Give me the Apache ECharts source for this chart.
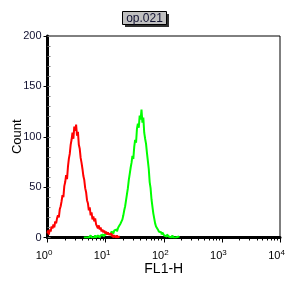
<!DOCTYPE html>
<html>
<head>
<meta charset="utf-8">
<script src="https://cdn.jsdelivr.net/npm/echarts@6/dist/echarts.min.js"></script>
<style>
html,body{margin:0;padding:0;background:#fff;}
#c{width:288px;height:288px;}
</style>
</head>
<body>
<div id="c"></div>
<script>
// Channel scale: 256 channels over 4 decades
var channelMax = 256;
var decadeExponents = ['0', '1', '2', '3', '4'];
var yTicks = [0, 50, 100, 150, 200];
var titleText = 'op.021';
var xTitle = 'FL1-H';
var yTitle = 'Count';

// Red histogram: counts per channel starting at channel 0
var redStart = 0;
var redCounts = [4,7,3,8,6,11,9,13,10,16,14,19,22,20,28,31,36,42,40,51,
  55,62,58,70,78,83,92,97,104,98,110,106,112,101,105,92,88,79,74,68,
  61,57,49,45,37,34,27,30,22,25,18,21,16,19,13,14,9,12,8,10,
  6,8,5,7,4,6,3,5,3,2,4,1,3,0,2,1,0,2,0,1,0];

// Green histogram: counts per channel starting at channel 40
var greenStart = 40;
var greenCounts = [0,1,0,1,0,0,1,0,2,0,1,0,1,2,0,1,2,1,0,2,
  1,3,1,2,3,2,4,3,5,3,4,6,5,4,7,6,8,6,9,11,
  10,14,13,18,22,27,31,37,43,49,57,63,69,74,81,78,90,97,94,108,
  113,109,121,117,127,114,119,104,98,93,84,76,68,55,49,38,31,24,19,14,
  11,12,8,6,7,5,3,5,4,2,3,1,3,2,1,2,0,1,2,0,
  1,0,1,0,1,0];

function toPairs(start, arr) {
  return arr.map(function (v, i) { return [start + i, v]; });
}

var perDecade = channelMax / (decadeExponents.length - 1);
var minorTickChannels = [];
for (var d = 0; d < decadeExponents.length - 1; d++) {
  for (var m = 2; m <= 9; m++) {
    minorTickChannels.push(perDecade * (d + Math.log10(m)));
  }
}

var font = 'Liberation Sans, Arial, sans-serif';
var chart = echarts.init(document.getElementById('c'), null, {renderer: 'canvas'});
chart.setOption({
  animation: false,
  backgroundColor: '#fff',
  grid: {left: 47.5, right: 8, top: 36, bottom: 50.5, show: true, borderColor: '#000', borderWidth: 1,
    backgroundColor: 'transparent', containLabel: false, outerBoundsMode: 'none'},
  graphic: [
    {type: 'rect', shape: {x: 125, y: 14, width: 44, height: 13}, style: {fill: '#303030'}, z: 10},
    {type: 'rect', shape: {x: 122.5, y: 11.5, width: 44, height: 13}, style: {fill: '#c0c0c0', stroke: '#000', lineWidth: 1}, z: 11},
    {type: 'text', x: 144.5, y: 18.5, style: {text: titleText, fill: '#101030', font: '12px ' + font, align: 'center', verticalAlign: 'middle'}, z: 12}
  ],
  xAxis: [
    {
      type: 'value', min: 0, max: channelMax, interval: perDecade,
      name: xTitle, nameLocation: 'middle', nameGap: 25, nameMoveOverlap: false,
      nameTextStyle: {fontFamily: font, fontSize: 14, color: '#000'},
      axisLine: {show: true, onZero: false, lineStyle: {color: '#000', width: 3}},
      axisTick: {show: true, length: 5, lineStyle: {color: '#000', width: 1}},
      splitLine: {show: false},
      axisLabel: {
        margin: 11, padding: [0, 7, 0, 0],
        formatter: function (v) {
          var i = Math.round(v / perDecade);
          return '{b|10}{e|' + decadeExponents[i] + '}';
        },
        rich: {
          b: {fontFamily: font, fontSize: 11, color: '#000', verticalAlign: 'bottom'},
          e: {fontFamily: font, fontSize: 8, color: '#000', verticalAlign: 'bottom', padding: [0, 0, 5, 0]}
        }
      }
    },
    {
      type: 'value', min: 0, max: channelMax, position: 'bottom',
      axisLine: {show: false, onZero: false},
      axisTick: {show: true, length: 3, customValues: minorTickChannels, lineStyle: {color: '#000', width: 1}},
      axisLabel: {show: false},
      splitLine: {show: false}
    }
  ],
  yAxis: [
    {
      type: 'value', min: 0, max: 200, interval: 50,
      name: yTitle, nameLocation: 'middle', nameGap: 24, nameRotate: 90, nameMoveOverlap: false,
      nameTextStyle: {fontFamily: font, fontSize: 13, color: '#000'},
      axisLine: {show: true, onZero: false, lineStyle: {color: '#000', width: 3}},
      axisTick: {show: true, length: 4, lineStyle: {color: '#000', width: 1}},
      splitLine: {show: false},
      axisLabel: {margin: 6, fontFamily: font, fontSize: 11, color: '#101030',
        formatter: function (v) { return yTicks.indexOf(v) >= 0 ? String(v) : ''; }}
    },
    {
      type: 'value', min: 0, max: 200, interval: 10, position: 'left',
      axisLine: {show: false},
      axisTick: {show: true, inside: true, length: 3, lineStyle: {color: '#777', width: 1}},
      axisLabel: {show: false},
      splitLine: {show: false}
    }
  ],
  series: [
    {type: 'line', name: 'green', data: toPairs(greenStart, greenCounts), step: 'middle', showSymbol: false,
      lineStyle: {color: '#00ff00', width: 2}, itemStyle: {color: '#00ff00'}, clip: true, z: 3},
    {type: 'line', name: 'red', data: toPairs(redStart, redCounts), step: 'middle', showSymbol: false,
      lineStyle: {color: '#ff0000', width: 2}, itemStyle: {color: '#ff0000'}, clip: true, z: 4}
  ]
});
</script>
</body>
</html>
